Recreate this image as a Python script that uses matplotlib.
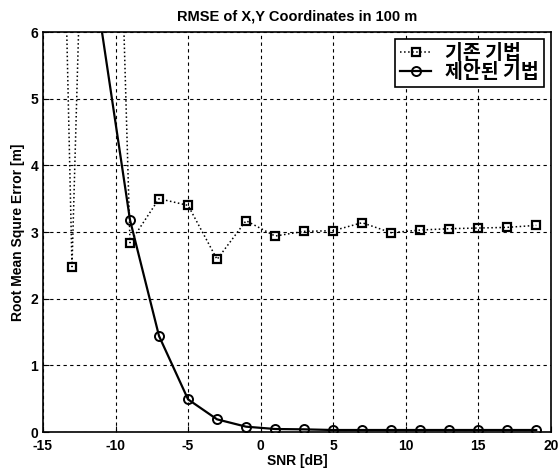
import matplotlib
matplotlib.use('Agg')
from matplotlib import pyplot as plt

plt.rcParams['font.family'] = ['Liberation Sans Narrow', 'Liberation Sans', 'Noto Sans CJK KR', 'DejaVu Sans']
plt.rcParams['axes.unicode_minus'] = False

# SNR values [dB]
snr = [-15, -13, -11, -9, -7, -5, -3, -1, 1, 3, 5, 7, 9, 11, 13, 15, 17, 19]

# existing method (points above 6 fall outside the view)
rmse_old = [22.0, 2.48, 18.0, 2.84, 3.50, 3.40, 2.59, 3.17, 2.94, 3.01,
            3.02, 3.14, 2.99, 3.03, 3.05, 3.06, 3.07, 3.10]

# proposed method
rmse_new = [40.0, 20.0, 6.1, 3.18, 1.44, 0.49, 0.19, 0.08, 0.045, 0.04,
            0.03, 0.03, 0.03, 0.03, 0.03, 0.03, 0.03, 0.03]

labels = ['기존 기법', '제안된 기법']

fig = plt.figure(figsize=(5.58, 4.75), dpi=100)
ax = fig.add_axes([0.077, 0.0905, 0.91, 0.842])

ax.plot(snr, rmse_old, color='black', linestyle=':', linewidth=1.1,
        marker='s', markersize=6, markerfacecolor='none',
        markeredgewidth=1.6, label=labels[0])
ax.plot(snr, rmse_new, color='black', linestyle='-', linewidth=1.6,
        marker='o', markersize=6.5, markerfacecolor='none',
        markeredgewidth=1.4, label=labels[1])

ax.set_xlim(-15, 20)
ax.set_ylim(0, 6)
ax.set_xticks(range(-15, 21, 5))
ax.set_yticks(range(0, 7))
ax.tick_params(direction='in', length=4, labelsize=10)
ax.tick_params(axis='x', pad=5)
for lab in ax.get_xticklabels() + ax.get_yticklabels():
    lab.set_fontweight('bold')

ax.grid(True, color='black', linestyle=(0, (3, 3)), linewidth=0.8)
for s in ax.spines.values():
    s.set_linewidth(1.2)

ax.set_title('RMSE of X,Y Coordinates in 100 m', fontsize=10.5, fontweight='bold', pad=8)
ax.set_xlabel('SNR [dB]', fontsize=10, fontweight='bold', labelpad=1)
ax.set_ylabel('Root Mean Squre Error [m]', fontsize=10, fontweight='bold', labelpad=4)

leg = ax.legend(loc='upper right', bbox_to_anchor=(0.986, 0.9825), frameon=True,
                fancybox=False, borderaxespad=0, handlelength=1.6, handletextpad=0.7,
                borderpad=0.25, labelspacing=0.0,
                prop={'family': ['Noto Sans CJK KR', 'DejaVu Sans'], 'weight': 'bold', 'size': 14})
leg.get_frame().set_edgecolor('black')
leg.get_frame().set_linewidth(1.2)
leg.get_frame().set_alpha(1)

fig.savefig('out.png', dpi=100)
